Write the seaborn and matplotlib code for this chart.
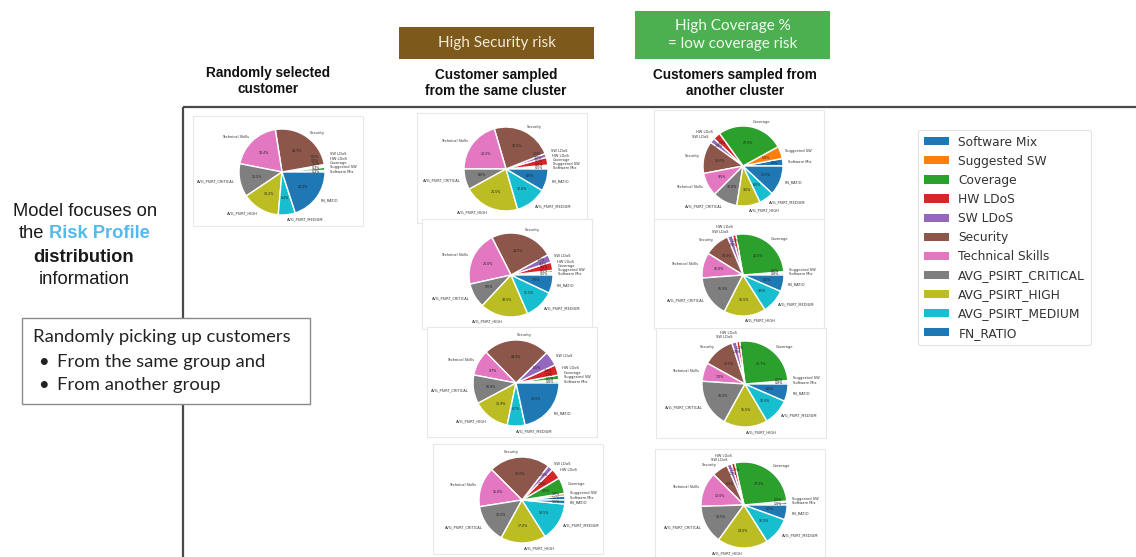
import matplotlib
matplotlib.use("Agg")
import matplotlib.pyplot as plt
from matplotlib.patches import Rectangle, Patch
import seaborn as sns

# ---------------- data ----------------
categories = ["Software Mix", "Suggested SW", "Coverage", "HW LDoS", "SW LDoS",
              "Security", "Technical Skills", "AVG_PSIRT_CRITICAL",
              "AVG_PSIRT_HIGH", "AVG_PSIRT_MEDIUM", "FN_RATIO"]

random_customer = [0.3, 0.3, 1.2, 0.5, 0.5, 24.7, 19.4, 12.5, 14.2, 6.4, 20.0]
same_cluster_1 = [0.5, 0.5, 0.5, 3.0, 1.5, 23.5, 20.5, 8.0, 21.5, 12.0, 8.5]
same_cluster_2 = [0.5, 0.5, 0.8, 3.2, 3.0, 24.5, 21.0, 9.5, 18.5, 11.5, 7.0]
same_cluster_3 = [0.8, 0.5, 1.7, 3.9, 5.5, 24.9, 9.7, 10.8, 13.9, 6.7, 21.6]
same_cluster_4 = [1.5, 1.0, 6.0, 4.0, 2.0, 23.0, 15.0, 14.5, 17.0, 14.5, 1.5]
other_cluster_1 = [3.0, 5.0, 27.0, 3.0, 2.0, 13.0, 9.5, 10.0, 9.5, 6.0, 12.0]
other_cluster_2 = [0.8, 0.5, 26.5, 1.4, 2.0, 10.0, 10.0, 16.3, 16.5, 9.5, 6.5]
other_cluster_3 = [0.8, 0.5, 25.7, 1.2, 1.8, 12.0, 7.0, 18.0, 16.5, 10.0, 6.5]
other_cluster_4 = [1.0, 0.5, 27.0, 1.3, 1.7, 6.0, 13.0, 14.5, 19.0, 10.5, 5.5]

column_titles = ["Randomly selected\ncustomer",
                 "Customer sampled\nfrom the same cluster",
                 "Customers sampled from\nanother cluster"]
tag_security = "High Security risk"
tag_coverage = "High Coverage %\n= low coverage risk"
focus_lines = ["Model focuses on", "the", "Risk Profile", "distribution", "information"]
box_lines = ["Randomly picking up customers", "From the same group and", "From another group"]

# ---------------- style ----------------
sns.set_theme(style="white")
plt.rcParams['font.family'] = ['DejaVu Sans']
pal = sns.color_palette("tab10", 10)
colors = [pal[i % 10] for i in range(len(categories))]

W, H = 1136, 557
fig = plt.figure(figsize=(W / 100, H / 100), dpi=100)
fig.patch.set_facecolor("white")

bg = fig.add_axes([0, 0, 1, 1])
bg.set_xlim(0, W)
bg.set_ylim(H, 0)
bg.axis("off")

# big frame
bg.plot([183, W + 5], [107, 107], color="#4a4a4a", lw=1.6, solid_capstyle="butt", zorder=2)
bg.plot([183, 183], [107, H + 5], color="#4a4a4a", lw=1.6, solid_capstyle="butt", zorder=2)


def spread(texts, gap, xtol):
    """Push apart small texts that sit on top of each other (same side of the pie)."""
    for side in (True, False):
        ts = [t for t in texts if (t.get_position()[0] >= 0) == side]
        ts.sort(key=lambda t: t.get_position()[1])
        for _ in range(3):
            for i in range(1, len(ts)):
                for j in range(i):
                    x0, y0 = ts[j].get_position()
                    x1, y1 = ts[i].get_position()
                    if abs(x1 - x0) < xtol and y1 - y0 < gap:
                        ts[i].set_position((x1, y0 + gap))


def draw_pie(cx, cy, r, values):
    bg.add_patch(Rectangle((cx - 89, cy - 56), 170, 110, facecolor="white",
                           edgecolor="#e8e8e8", lw=0.8, zorder=3))
    ax = fig.add_axes([(cx - r) / W, (H - cy - r) / H, 2 * r / W, 2 * r / H])
    wedges, texts, autotexts = ax.pie(values, labels=categories, colors=colors,
                                      autopct="%.1f%%", labeldistance=1.12,
                                      pctdistance=0.6,
                                      textprops={"fontsize": 2.6, "color": "#333333"})
    ax.set_xlim(-1, 1)
    ax.set_ylim(-1, 1)
    ax.set_aspect("equal")
    for w in wedges:
        w.set_clip_on(False)
    for t in autotexts:
        t.set_fontsize(2.3)
        t.set_color("#222222")
    spread(texts, 0.1, 0.9)
    small = [t for t, v in zip(autotexts, values) if v < 4.0]
    for t in small:
        x, y = t.get_position()
        t.set_position((x * 1.3, y * 1.3))
    spread(autotexts, 0.085, 0.3)
    ax.axis("off")


draw_pie(282, 172, 43, random_customer)
draw_pie(506, 169, 42, same_cluster_1)
draw_pie(511, 275, 42, same_cluster_2)
draw_pie(516, 383, 43, same_cluster_3)
draw_pie(522, 500, 43, same_cluster_4)
draw_pie(743, 166, 40, other_cluster_1)
draw_pie(743, 275, 41, other_cluster_2)
draw_pie(745, 384, 43, other_cluster_3)
draw_pie(744, 505, 43, other_cluster_4)

# column titles
hdr = dict(family="Liberation Sans", fontweight="bold", fontsize=9.8,
           ha="center", va="center", color="#111111", linespacing=1.15)
bg.text(268, 81, column_titles[0], **hdr)
bg.text(496, 83, column_titles[1], **hdr)
bg.text(735, 83, column_titles[2], **hdr)

# tag boxes
bg.add_patch(Rectangle((399, 27), 195, 32, facecolor="#7d5a1c", edgecolor="none", zorder=2))
bg.text(496.5, 43, tag_security, family="Lato", fontsize=11, color="#f3ead8",
        ha="center", va="center")
bg.add_patch(Rectangle((635, 11), 195, 48, facecolor="#4cb050", edgecolor="none", zorder=2))
bg.text(732.5, 35, tag_coverage, family="Lato", fontsize=11, color="#f2fbf2",
        ha="center", va="center", linespacing=1.3)

# left explanatory text
FS = 13.2
lf = dict(family="Liberation Sans", fontsize=FS, ha="center", va="center", color="#1a1a1a")
bg.text(85, 212, focus_lines[0], **lf)
t_the = bg.text(0, 234, focus_lines[1], family="Liberation Sans", fontsize=FS,
                ha="left", va="center", color="#1a1a1a")
t_rp = bg.text(0, 234, focus_lines[2], family="Liberation Sans", fontsize=FS,
               ha="left", va="center", color="#55b8ee", fontweight="bold")
renderer = fig.canvas.get_renderer()
w_the = t_the.get_window_extent(renderer).width
w_rp = t_rp.get_window_extent(renderer).width
space = 4.5
start = 84 - (w_the + space + w_rp) / 2
t_the.set_x(start)
t_rp.set_x(start + w_the + space)
bg.text(84, 257, focus_lines[3], family="Liberation Sans", fontsize=FS,
        ha="center", va="center", color="#1a1a1a", fontweight="bold")
bg.text(84, 279, focus_lines[4], **lf)

# picking box
bg.add_patch(Rectangle((22, 318), 288, 86, facecolor="white", edgecolor="#8a8a8a",
                       lw=1.0, zorder=4))
bf = dict(family="Lato", fontsize=13.3, ha="left", va="center", color="#222222", zorder=5)
bg.text(33, 337, box_lines[0], **bf)
bg.text(38, 362, "\u2022", **bf)
bg.text(57, 362, box_lines[1], **bf)
bg.text(38, 385, "\u2022", **bf)
bg.text(57, 385, box_lines[2], **bf)

# legend
handles = [Patch(facecolor=colors[i], edgecolor="none") for i in range(len(categories))]
leg = fig.legend(handles, categories, loc="upper left",
                 bbox_to_anchor=(918 / W, 1 - 130 / H), frameon=True,
                 fontsize=8.8, handlelength=2.1, handleheight=0.65,
                 handletextpad=0.75, labelspacing=0.5, borderpad=0.45,
                 borderaxespad=0.0, fancybox=True)
leg.get_frame().set_edgecolor("#dddddd")
leg.get_frame().set_linewidth(0.8)
for t in leg.get_texts():
    t.set_color("#333333")

fig.savefig("out.png", dpi=100, facecolor="white")
